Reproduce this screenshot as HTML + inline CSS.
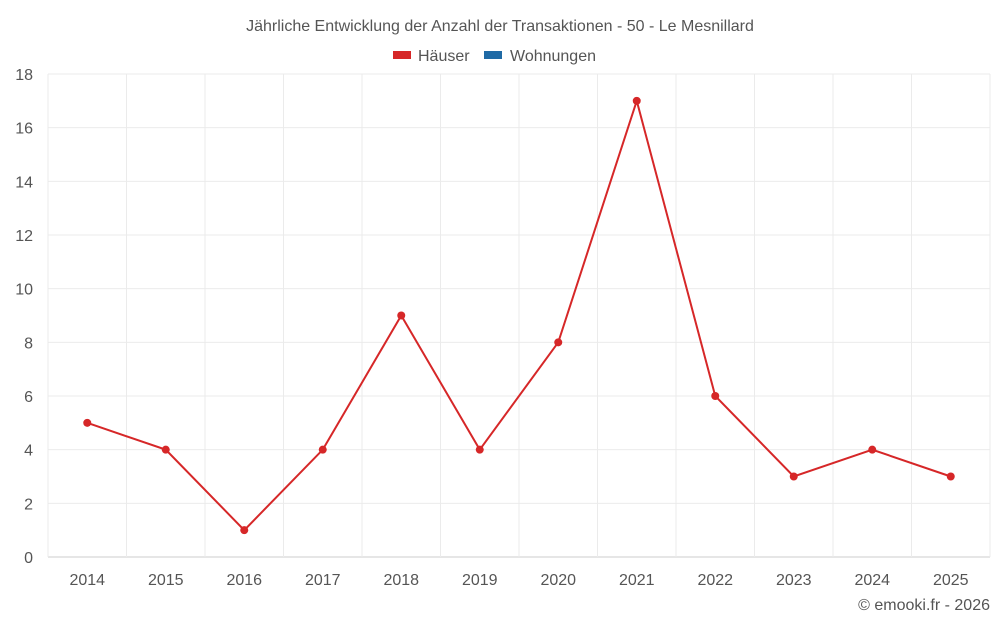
<!DOCTYPE html>
<html><head><meta charset="utf-8"><style>
body{margin:0;background:#fff;font-family:"Liberation Sans",sans-serif;}
svg text{font-family:"Liberation Sans",sans-serif;fill:#555;}
</style></head><body>
<svg id="chart" width="1000" height="625">
<text x="500" y="31" text-anchor="middle" font-size="16">Jährliche Entwicklung der Anzahl der Transaktionen - 50 - Le Mesnillard</text>
<g>
<g><rect x="393" y="51" width="18" height="8" fill="#d62728"/><text x="418" y="61" font-size="16">Häuser</text></g>
<g><rect x="484" y="51" width="18" height="8" fill="#1f6aa5"/><text x="510" y="61" font-size="16">Wohnungen</text></g>
</g>
<g id="grid"></g><g id="axes"></g><g id="series"></g>
<text x="990" y="610" text-anchor="end" font-size="16">© emooki.fr - 2026</text>
</svg>
<script>
const categories=["2014","2015","2016","2017","2018","2019","2020","2021","2022","2023","2024","2025"];
const haeuser=[5,4,1,4,9,4,8,17,6,3,4,3];
const yTicks=[0,2,4,6,8,10,12,14,16,18];
const L=48,R=990,T=74,B=557,yMax=18;
const bw=(R-L)/categories.length;
const x=i=>L+bw*(i+0.5);
const y=v=>B-(v/yMax)*(B-T);
const ns="http://www.w3.org/2000/svg";
function mk(t,a,p){const e=document.createElementNS(ns,t);for(const k in a)e.setAttribute(k,a[k]);p.appendChild(e);return e;}
const g=document.getElementById('grid'),ax=document.getElementById('axes'),s=document.getElementById('series');
yTicks.forEach(v=>{
 const l=mk('line',{x1:L,x2:R,y1:y(v),y2:y(v),stroke:v===0?'#ccc':'#ebebeb'},g);
 
 
 const t=mk('text',{x:33,y:y(v)+6,'text-anchor':'end','font-size':16},ax);t.textContent=v;
 
 
});
for(let i=0;i<=categories.length;i++){
 const l=mk('line',{x1:L+bw*i,x2:L+bw*i,y1:T,y2:B,stroke:'#ebebeb'},g);
 
 
}
categories.forEach((c,i)=>{
 const t=mk('text',{x:x(i),y:585,'text-anchor':'middle','font-size':16},ax);t.textContent=c;
 
 
});
const p=mk('polyline',{points:haeuser.map((v,i)=>x(i)+','+y(v)).join(' '),fill:'none',stroke:'#d62728','stroke-width':2},s);


haeuser.forEach((v,i)=>{
 const c=mk('circle',{cx:x(i),cy:y(v),r:4,fill:'#d62728'},s);
 
 
});
</script>
</body></html>
